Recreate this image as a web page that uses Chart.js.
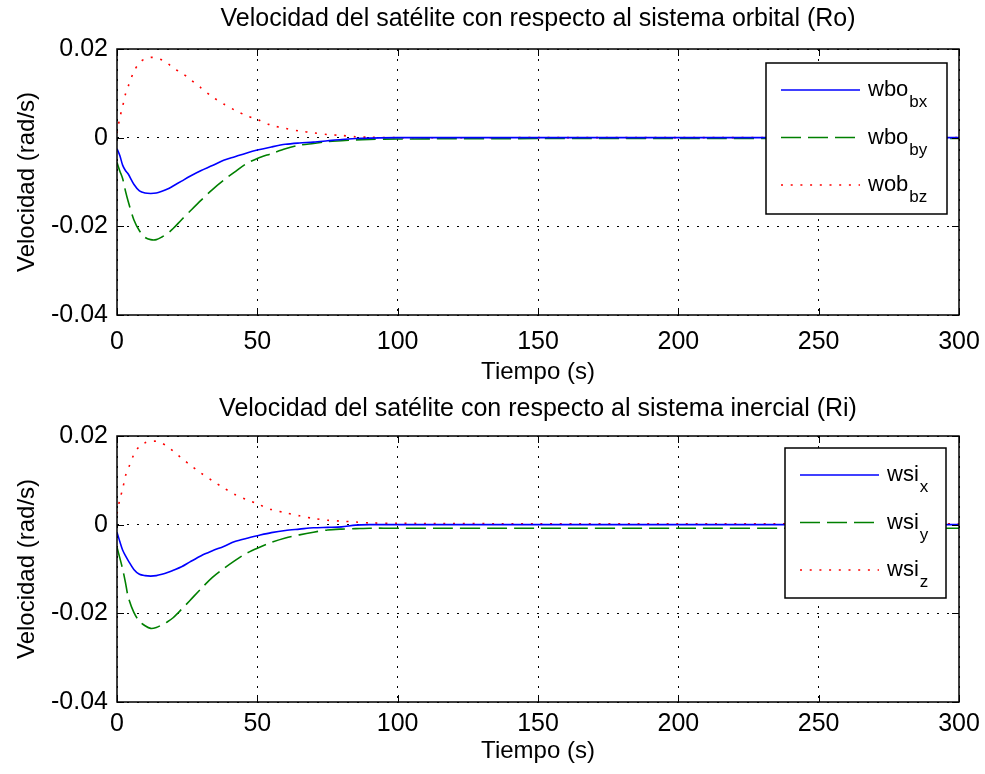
<!DOCTYPE html>
<html>
<head>
<meta charset="utf-8">
<script src="https://cdn.jsdelivr.net/npm/chart.js@4.4.1/dist/chart.umd.min.js"></script>
<style>
  body { margin: 0; background: #fff; }
  .panel { position: absolute; left: 0; width: 985px; height: 387px; }
  canvas { display: block; }
</style>
</head>
<body>
<div class="panel" style="top:0"><canvas id="orbital" width="985" height="387"></canvas></div>
<div class="panel" style="top:387px"><canvas id="inercial" width="985" height="387"></canvas></div>
<script>
// Tiempo (s) - common sample times
const tiempo = [0, 1, 2, 3, 4, 6, 8, 10, 12, 14, 16, 18, 20, 23, 26, 30, 34, 38, 42, 46, 50, 55, 60, 65, 70, 75, 80, 85, 90, 100, 150, 200, 250, 300];

// Velocidad respecto al sistema orbital (rad/s)
const wboBx = [-0.0025, -0.0040, -0.0062, -0.0074, -0.0082, -0.0105, -0.0120, -0.0125, -0.0126, -0.0125, -0.0121, -0.0116, -0.0109, -0.0098, -0.0087, -0.0074, -0.0063, -0.0051, -0.0043, -0.0035, -0.0028, -0.0021, -0.0015, -0.0012, -0.0010, -0.0007, -0.0004, -0.0002, -0.0001, 0, 0, 0, 0, 0];
const wboBy = [-0.0056, -0.0075, -0.0092, -0.0120, -0.0144, -0.0185, -0.0210, -0.0225, -0.0230, -0.0230, -0.0224, -0.0216, -0.0205, -0.0185, -0.0166, -0.0141, -0.0117, -0.0096, -0.0077, -0.0059, -0.0047, -0.0036, -0.0025, -0.0017, -0.0013, -0.0009, -0.0007, -0.0005, -0.0004, -0.0003, -0.0002, -0.0002, -0.0002, -0.0002];
const wobBz = [0.0010, 0.0045, 0.0070, 0.0098, 0.0116, 0.0149, 0.0169, 0.0178, 0.0181, 0.0180, 0.0175, 0.0168, 0.0157, 0.0146, 0.0132, 0.0112, 0.0092, 0.0076, 0.0062, 0.0050, 0.0041, 0.0028, 0.0021, 0.0015, 0.0011, 0.0007, 0.0005, 0.0002, 0.0001, 0, 0, 0, 0, 0];

// Velocidad respecto al sistema inercial (rad/s)
const wsiX = [-0.0017, -0.0038, -0.0057, -0.0070, -0.0081, -0.0101, -0.0112, -0.0115, -0.0116, -0.0115, -0.0112, -0.0108, -0.0103, -0.0095, -0.0084, -0.0070, -0.0059, -0.0049, -0.0038, -0.0031, -0.0025, -0.0018, -0.0013, -0.0010, -0.0007, -0.0006, -0.0005, -0.0001, 0, 0, 0, 0, 0, 0];
const wsiY = [-0.0051, -0.0075, -0.0100, -0.0130, -0.0163, -0.0198, -0.0218, -0.0228, -0.0234, -0.0232, -0.0226, -0.0219, -0.0210, -0.0191, -0.0171, -0.0144, -0.0119, -0.0099, -0.0081, -0.0065, -0.0053, -0.0040, -0.0030, -0.0023, -0.0017, -0.0012, -0.0010, -0.0009, -0.0008, -0.0008, -0.0008, -0.0008, -0.0008, -0.0008];
const wsiZ = [0.0025, 0.0057, 0.0080, 0.0110, 0.0126, 0.0158, 0.0177, 0.0185, 0.0188, 0.0188, 0.0184, 0.0176, 0.0166, 0.0150, 0.0135, 0.0116, 0.0099, 0.0083, 0.0068, 0.0057, 0.0047, 0.0034, 0.0027, 0.0020, 0.0014, 0.0010, 0.0008, 0.0006, 0.0004, 0.0003, 0.0002, 0.0002, 0.0002, 0.0002];

// Ejes
const xTicks = [0, 50, 100, 150, 200, 250, 300];
const yTicks = [-0.04, -0.02, 0, 0.02];
const yTickLabels = ['-0.04', '-0.02', '0', '0.02'];

// Leyendas (texto base + subindice)
const legendOrbitalBase = ['wbo', 'wbo', 'wob'];
const legendOrbitalSub = ['bx', 'by', 'bz'];
const legendInercialBase = ['wsi', 'wsi', 'wsi'];
const legendInercialSub = ['x', 'y', 'z'];

const FONT = '"Liberation Sans", Arial, sans-serif';

function pts(ys) {
  return tiempo.map((t, i) => ({ x: t, y: ys[i] }));
}

// MATLAB-like box, inner ticks and legend with subscripts
const matlabBox = {
  id: 'matlabBox',
  afterDatasetsDraw(chart, args, opts) {
    const ctx = chart.ctx;
    const a = chart.chartArea;
    const sx = chart.scales.x, sy = chart.scales.y;
    ctx.save();
    ctx.setLineDash([]);
    ctx.strokeStyle = '#000';
    ctx.lineWidth = 1;
    ctx.beginPath();
    sx.ticks.forEach(t => {
      const px = Math.round(sx.getPixelForValue(t.value)) + 0.5;
      ctx.moveTo(px, a.bottom); ctx.lineTo(px, a.bottom - 7);
      ctx.moveTo(px, a.top); ctx.lineTo(px, a.top + 7);
    });
    sy.ticks.forEach(t => {
      const py = Math.round(sy.getPixelForValue(t.value)) + 0.5;
      ctx.moveTo(a.left, py); ctx.lineTo(a.left + 7, py);
      ctx.moveTo(a.right, py); ctx.lineTo(a.right - 7, py);
    });
    ctx.stroke();
    ctx.lineWidth = 1.5;
    ctx.strokeRect(a.left, a.top, a.right - a.left, a.bottom - a.top);

    // legend
    const L = opts.box;
    ctx.fillStyle = '#fff';
    ctx.fillRect(L.x, L.y, L.w, L.h);
    ctx.lineWidth = 1.5;
    ctx.strokeStyle = '#000';
    ctx.strokeRect(L.x, L.y, L.w, L.h);
    chart.data.datasets.forEach((ds, i) => {
      const ly = L.y + 27 + i * 47.5;
      ctx.strokeStyle = ds.borderColor;
      ctx.lineWidth = ds.borderWidth;
      ctx.setLineDash(ds.borderDash || []);
      ctx.beginPath();
      ctx.moveTo(L.x + 15, ly);
      ctx.lineTo(L.x + 94, ly);
      ctx.stroke();
      ctx.setLineDash([]);
      ctx.fillStyle = '#000';
      ctx.textBaseline = 'alphabetic';
      ctx.textAlign = 'left';
      ctx.font = '22px ' + FONT;
      ctx.fillText(opts.base[i], L.x + 102, ly + 6);
      const w = ctx.measureText(opts.base[i]).width;
      ctx.font = '17px ' + FONT;
      ctx.fillText(opts.sub[i], L.x + 103 + w, ly + 17);
    });
    ctx.restore();
  }
};

function makeChart(id, title, series, legendBase, legendSub, box, pad) {
  const styles = [
    { color: '#0000ff', dash: [], width: 1.6 },
    { color: '#008000', dash: [20, 7], width: 1.6 },
    { color: '#ff0000', dash: [2, 7.7], width: 1.6 }
  ];
  return new Chart(document.getElementById(id), {
    type: 'line',
    data: {
      datasets: series.map((s, i) => ({
        label: legendBase[i] + legendSub[i],
        data: pts(s),
        borderColor: styles[i].color,
        borderDash: styles[i].dash,
        borderWidth: styles[i].width,
        pointRadius: 0,
        tension: 0.3,
        fill: false
      }))
    },
    options: {
      responsive: false,
      animation: false,
      devicePixelRatio: 1,
      layout: { padding: { left: 0, right: 26, top: 0, bottom: 0 } },
      plugins: {
        legend: { display: false },
        tooltip: { enabled: false },
        title: {
          display: true,
          text: title,
          fullSize: false,
          color: '#000',
          font: { family: FONT, size: 25, weight: 'normal', lineHeight: 1.2 },
          padding: { top: pad.titleTop, bottom: 19 - pad.titleTop }
        },
        matlabBox: { box: box, base: legendBase, sub: legendSub }
      },
      scales: {
        x: {
          type: 'linear',
          min: 0,
          max: 300,
          afterBuildTicks: s => { s.ticks = xTicks.map(v => ({ value: v })); },
          afterFit: s => { s.height = 72; s.paddingLeft = 0; s.paddingRight = 0; },
          grid: { color: '#000', lineWidth: 1, drawTicks: false },
          border: { display: false, dash: [2, 8] },
          ticks: {
            color: '#000',
            padding: pad.tick,
            maxRotation: 0,
            font: { family: FONT, size: 25 },
            callback: v => String(v)
          },
          title: {
            display: true,
            text: 'Tiempo (s)',
            color: '#000',
            font: { family: FONT, size: 24, lineHeight: 1.2 },
            padding: { top: 0, bottom: pad.xTitle }
          }
        },
        y: {
          min: -0.04,
          max: 0.02,
          afterBuildTicks: s => { s.ticks = yTicks.map(v => ({ value: v })); },
          afterFit: s => { s.width = 117; },
          grid: { color: '#000', lineWidth: 1, drawTicks: false },
          border: { display: false, dash: [2, 8] },
          ticks: {
            color: '#000',
            padding: 9,
            font: { family: FONT, size: 25 },
            callback: v => yTickLabels[yTicks.indexOf(v)]
          },
          title: {
            display: true,
            text: 'Velocidad (rad/s)',
            color: '#000',
            font: { family: FONT, size: 24, lineHeight: 1.2 },
            padding: { top: 13, bottom: 0 }
          }
        }
      }
    },
    plugins: [matlabBox]
  });
}

makeChart('orbital', 'Velocidad del satélite con respecto al sistema orbital (Ro)',
  [wboBx, wboBy, wobBz], legendOrbitalBase, legendOrbitalSub,
  { x: 766, y: 63, w: 181, h: 151 },
  { titleTop: 4, tick: 12, xTitle: 0 });

makeChart('inercial', 'Velocidad del satélite con respecto al sistema inercial (Ri)',
  [wsiX, wsiY, wsiZ], legendInercialBase, legendInercialSub,
  { x: 785, y: 61, w: 161, h: 150 },
  { titleTop: 7, tick: 7, xTitle: 8 });
</script>
</body>
</html>
